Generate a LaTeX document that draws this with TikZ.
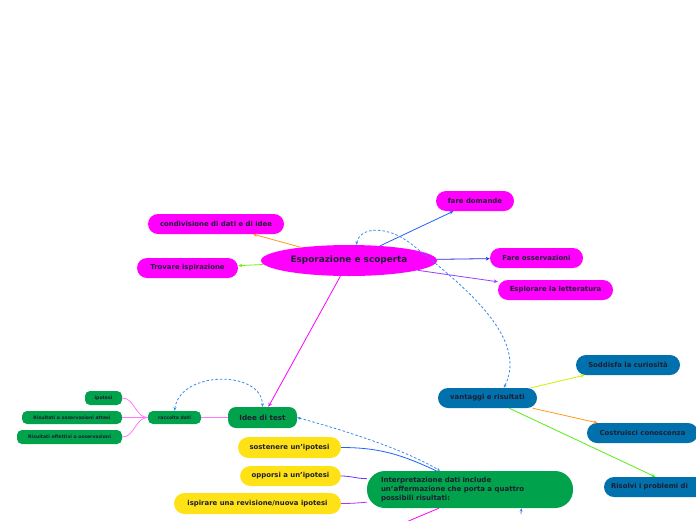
\documentclass[tikz,border=0pt]{standalone}
\usepackage{fontspec}
\setmainfont{DejaVu Sans}
\usetikzlibrary{shapes.geometric,arrows.meta}
\definecolor{cMag}{HTML}{FF00FF}
\definecolor{cGreen}{HTML}{00A24C}
\definecolor{cBlue}{HTML}{0071AD}
\definecolor{cYel}{HTML}{FFE216}
\definecolor{cTxt}{HTML}{1E1E30}
\definecolor{cOrange}{HTML}{FF9A1A}
\definecolor{cLime}{HTML}{77EE11}
\definecolor{cBl1}{HTML}{2060FF}
\definecolor{cBl2}{HTML}{2233DD}
\definecolor{cPur}{HTML}{9A3BFF}
\definecolor{cDash}{HTML}{3A8AEE}
\definecolor{cPink}{HTML}{FF77FF}
\definecolor{cYG}{HTML}{CCF000}
\definecolor{cGr2}{HTML}{55EE11}
\definecolor{cVio}{HTML}{6A33FF}
\definecolor{cPur2}{HTML}{B030FF}
\tikzset{
  box/.style={rectangle, rounded corners=10pt, minimum height=20pt, inner sep=0pt,
    font=\bfseries\fontsize{6.9}{8}\selectfont, text=cTxt, align=center},
  magbox/.style={box, fill=cMag},
  bluebox/.style={box, fill=cBlue},
  yelbox/.style={box, fill=cYel, minimum height=21pt, rounded corners=10.5pt},
  grnsmall/.style={box, fill=cGreen, rounded corners=5pt, minimum height=13pt,
    font=\bfseries\fontsize{4.6}{5.5}\selectfont},
  conn/.style={line width=0.8pt},
  arr/.style={conn, -{Stealth[length=4pt,width=3.5pt]}},
  rel/.style={line width=0.8pt, cDash, dash pattern=on 2.5pt off 2pt,
    {Stealth[length=3.5pt,width=3pt]}-{Stealth[length=3.5pt,width=3pt]}},
}
\begin{document}
\begin{tikzpicture}[x=1pt,y=-1pt]
\useasboundingbox (0,0) rectangle (696,520);
\fill[white] (0,0) rectangle (696,520);
\clip (0,0) rectangle (696,520);

% central
\node[ellipse, fill=cMag, minimum width=176pt, minimum height=31pt, inner sep=0pt,
  font=\bfseries\fontsize{8.9}{10}\selectfont, text=cTxt] (E) at (349,260.5) {Esporazione e scoperta};

\node[magbox, minimum width=136pt] (cond) at (216,224) {condivisione di dati e di idee};
\node[magbox, minimum width=101pt] (trov) at (187.5,268) {Trovare ispirazione};
\node[magbox, minimum width=78pt] (fare) at (475,201) {fare domande};
\node[magbox, minimum width=93pt] (oss) at (536.5,258) {Fare osservazioni};
\node[magbox, minimum width=115pt] (lett) at (555.5,290) {Esplorare la letteratura};

\draw[arr, cOrange] (E) -- (cond);
\draw[arr, cLime] (E) -- (trov);
\draw[arr, cBl1] (E) -- (fare);
\draw[arr, cBl2] (E) -- (oss);
\draw[arr, cPur] (E) -- (lett);

% Idee di test branch
\node[box, fill=cGreen, minimum width=69pt, minimum height=21pt, rounded corners=8pt,
  font=\bfseries\fontsize{7.2}{8}\selectfont] (idee) at (262.5,417.5) {Idee di test};
\draw[arr, cMag] (E) -- (idee);

\node[grnsmall, minimum width=53pt] (racc) at (174.5,417.5) {raccolta dati};
\node[grnsmall, minimum width=37pt, minimum height=14pt] (ipo) at (103.5,398) {ipotesi};
\node[grnsmall, minimum width=100pt] (att) at (72,417.5) {Risultati o osservazioni attesi};
\node[grnsmall, minimum width=105pt, minimum height=14pt] (eff) at (69.5,437) {Risultati effettivi o osservazioni};

\draw[conn, cPink] (idee.west) -- (racc.east);
\draw[conn, cPink] (racc.west) to[out=180,in=0] (ipo.east);
\draw[conn, cPink] (racc.west) -- (att.east);
\draw[conn, cPink] (racc.west) to[out=180,in=0] (eff.east);

\draw[rel] (racc.north) .. controls (180,370) and (262,370) .. (idee.north);

% Interpretazione
\node[rectangle, rounded corners=18pt, fill=cGreen, minimum width=206pt, minimum height=37pt,
  text width=178pt, inner xsep=14pt, inner ysep=0pt, align=left, text=cTxt,
  font=\bfseries\fontsize{7}{9}\selectfont] (interp) at (470,489.5)
  {Interpretazione dati include\\un'affermazione che porta a quattro\\possibili risultati:};

\node[yelbox, minimum width=103pt] (sost) at (289.5,447.5) {sostenere un'ipotesi};
\node[yelbox, minimum width=101pt, minimum height=20pt] (opp) at (290.5,476) {opporsi a un'ipotesi};
\node[yelbox, minimum width=167pt] (isp) at (257.5,503.5) {ispirare una revisione/nuova ipotesi};

\draw[conn, cBl1] (sost.east) to[out=0,in=155] (interp.151);
\draw[conn, cVio] (opp.east) to[out=0,in=180] (interp.174);
\draw[conn, cPur2] (isp.east) to[out=0,in=185] (interp.187);
\coordinate (offA) at (392,528);
\draw[conn, cMag] (interp.211) -- (offA);

\draw[rel] (idee.east) .. controls (350,432) and (405,450) .. (interp.148);
\coordinate (offB) at (521,514);
\draw[line width=0.8pt, cDash, -{Stealth[length=3.5pt,width=3pt]}] (offB) -- (interp.-20);

% vantaggi
\node[bluebox, minimum width=99pt] (vant) at (487.5,398) {vantaggi e risultati};
\node[bluebox, minimum width=104pt] (sodd) at (628,365) {Soddisfa la curiosità};
\node[bluebox, minimum width=111pt] (cost) at (642.5,433) {Costruisci conoscenza};
\node[bluebox, minimum width=146pt, text width=132pt, align=left] (ris) at (677,487) {Risolvi i problemi di};

\draw[arr, cYG] (vant) -- (sodd);
\draw[arr, cOrange] (vant) -- (cost);
\draw[arr, cGr2] (vant) -- (ris);

\draw[rel] (E.65) .. controls (360,226) and (388,226) .. (410,243)
  .. controls (470,290) and (528,340) .. (vant.32);
\end{tikzpicture}
\end{document}
